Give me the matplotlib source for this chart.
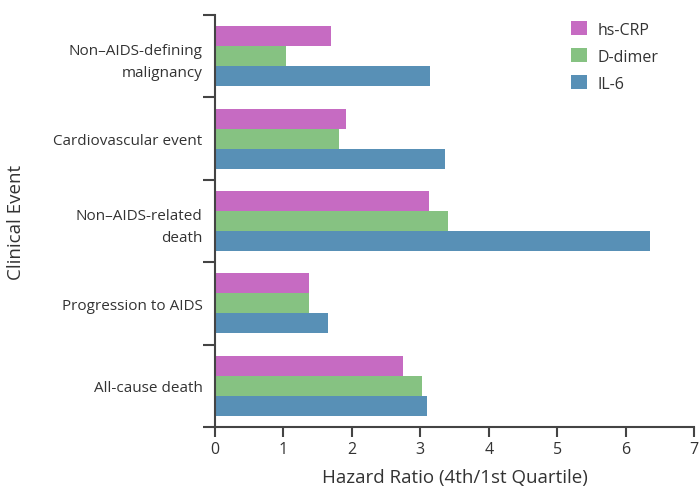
import matplotlib
matplotlib.use("Agg")
import matplotlib.pyplot as plt
import numpy as np
from matplotlib.patches import Patch

categories = ["Non\u2013AIDS-defining\nmalignancy", "Cardiovascular event",
              "Non\u2013AIDS-related\ndeath", "Progression to AIDS", "All-cause death"]
series_names = ["hs-CRP", "D-dimer", "IL-6"]
hs_crp = [1.69, 1.91, 3.13, 1.37, 2.75]
d_dimer = [1.04, 1.81, 3.40, 1.37, 3.02]
il6 = [3.14, 3.36, 6.35, 1.65, 3.10]
colors = ["#c66bc2", "#86c282", "#5890b6"]
xticks = [0, 1, 2, 3, 4, 5, 6, 7]

plt.rcParams['font.family'] = ['Open Sans', 'DejaVu Sans']
text_color = "#333333"

fig = plt.figure(figsize=(6.99, 4.89), dpi=100)
ax = fig.add_axes([0.3076, 0.1247, 0.6854, 0.8426])

y = np.arange(len(categories))
bh = 0.243
for i, (vals, c) in enumerate(zip([hs_crp, d_dimer, il6], colors)):
    ax.barh(y + (i - 1) * bh, vals, height=bh, color=c, label=series_names[i])

ax.set_xlim(0, 7)
ax.set_ylim(len(categories) - 0.5, -0.5)
ax.set_xticks(xticks)
ax.set_xticklabels([str(t) for t in xticks], fontsize=11.5, color=text_color)

ax.set_yticks(np.arange(-0.5, len(categories), 1.0))
ax.set_yticklabels([])
ax.set_yticks(y, minor=True)
ax.set_yticklabels(categories, minor=True, fontsize=11, color=text_color, linespacing=1.6)
ax.tick_params(axis='y', which='minor', length=0, pad=9)
ax.tick_params(axis='y', which='major', length=9, width=1.5, color="#444444")
ax.tick_params(axis='x', length=7, width=1.5, color="#444444", pad=3)

for s in ["top", "right"]:
    ax.spines[s].set_visible(False)
for s in ["left", "bottom"]:
    ax.spines[s].set_linewidth(1.5)
    ax.spines[s].set_color("#444444")

ax.set_xlabel("Hazard Ratio (4th/1st Quartile)", fontsize=13.5, color=text_color, labelpad=8)
ax.set_ylabel("Clinical Event", fontsize=13.5, color=text_color)
ax.yaxis.set_label_coords(-0.397, 0.5)

handles = [Patch(facecolor=c, edgecolor='none') for c in colors]
leg = ax.legend(handles, series_names, loc='upper left', bbox_to_anchor=(0.743, 0.985),
                frameon=False, fontsize=11.5, handlelength=1.0, handleheight=1.0,
                labelspacing=0.65, handletextpad=0.65, borderpad=0, borderaxespad=0)
for t in leg.get_texts():
    t.set_color(text_color)

fig.savefig("out.png", dpi=100)
